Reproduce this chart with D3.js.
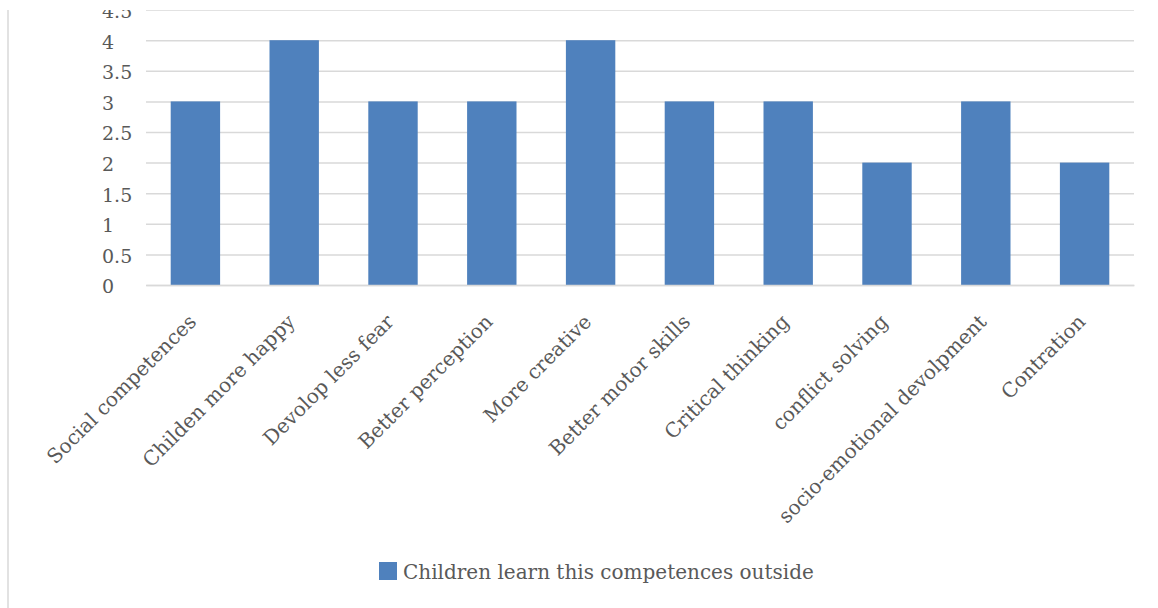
<!DOCTYPE html>
<html>
<head>
<meta charset="utf-8">
<script src="https://cdn.jsdelivr.net/npm/d3@7"></script>
<style>
  html, body { margin: 0; padding: 0; background: #ffffff; }
  svg { display: block; }
</style>
</head>
<body>
<svg id="chart" width="1158" height="608"></svg>
<script>
const categories = [
  "Social competences",
  "Childen more happy",
  "Devolop less fear",
  "Better perception",
  "More creative",
  "Better motor skills",
  "Critical thinking",
  "conflict solving",
  "socio-emotional devolpment",
  "Contration"
];
const values = [3, 4, 3, 3, 4, 3, 3, 2, 3, 2];
const yTicks = [0, 0.5, 1, 1.5, 2, 2.5, 3, 3.5, 4, 4.5];
const seriesName = "Children learn this competences outside";

(function () {
const FONT = "'DejaVu Serif', 'Liberation Serif', serif";
const TEXT = "#595959";
const GRID = "#d9d9d9";
const BAR = "#4f81bd";

const svg = d3.select("#chart");
const defs = svg.append("defs");
defs.append("clipPath").attr("id", "clip")
  .append("rect").attr("x", 0).attr("y", 10).attr("width", 1158).attr("height", 598);

const root = svg.append("g").attr("clip-path", "url(#clip)");

// chart border (left edge)
root.append("line")
  .attr("x1", 8).attr("x2", 8).attr("y1", 10).attr("y2", 608)
  .attr("stroke", GRID).attr("stroke-width", 1.5);

const pLeft = 146, pRight = 1134, pTop = 9.6, pBottom = 285;

const x = d3.scaleBand().domain(categories).range([pLeft, pRight])
  .paddingInner(0.5).paddingOuter(0.25);
const y = d3.scaleLinear().domain([0, 4.5]).range([pBottom, pTop]);

// y axis with gridlines
const yAxis = root.append("g")
  .attr("transform", `translate(${pLeft},0)`)
  .call(d3.axisLeft(y).tickValues(yTicks).tickSize(-(pRight - pLeft))
    .tickFormat(d => String(d)));
yAxis.select(".domain").remove();
yAxis.selectAll(".tick line").attr("stroke", GRID).attr("stroke-width", 1.5);
yAxis.selectAll(".tick text")
  .attr("x", 102 - pLeft).attr("dy", "0.42em")
  .attr("text-anchor", "start")
  .attr("fill", TEXT)
  .style("font-family", FONT).style("font-size", "19px");

// bars
root.append("g").selectAll("rect")
  .data(values)
  .join("rect")
  .attr("x", (d, i) => x(categories[i]))
  .attr("y", d => y(d))
  .attr("width", x.bandwidth())
  .attr("height", d => y(0) - y(d))
  .attr("fill", BAR);

// x axis
const xAxis = root.append("g")
  .attr("transform", `translate(0,${pBottom})`)
  .call(d3.axisBottom(x).tickSize(0).tickSizeOuter(0));
xAxis.select(".domain").attr("stroke", GRID).attr("stroke-width", 1.5);
xAxis.selectAll(".tick text")
  .attr("text-anchor", "end")
  .attr("fill", TEXT)
  .style("font-family", FONT).style("font-size", "20px")
  .attr("x", 0).attr("y", 0).attr("dy", 0)
  .attr("transform", "translate(2,38) rotate(-45)");

// legend
const legend = root.append("g");
legend.append("rect")
  .attr("x", 379).attr("y", 562).attr("width", 18).attr("height", 18)
  .attr("fill", BAR);
legend.append("text")
  .attr("x", 403).attr("y", 579)
  .attr("fill", TEXT)
  .style("font-family", FONT).style("font-size", "20px")
  .text(seriesName);
})();
</script>
</body>
</html>
